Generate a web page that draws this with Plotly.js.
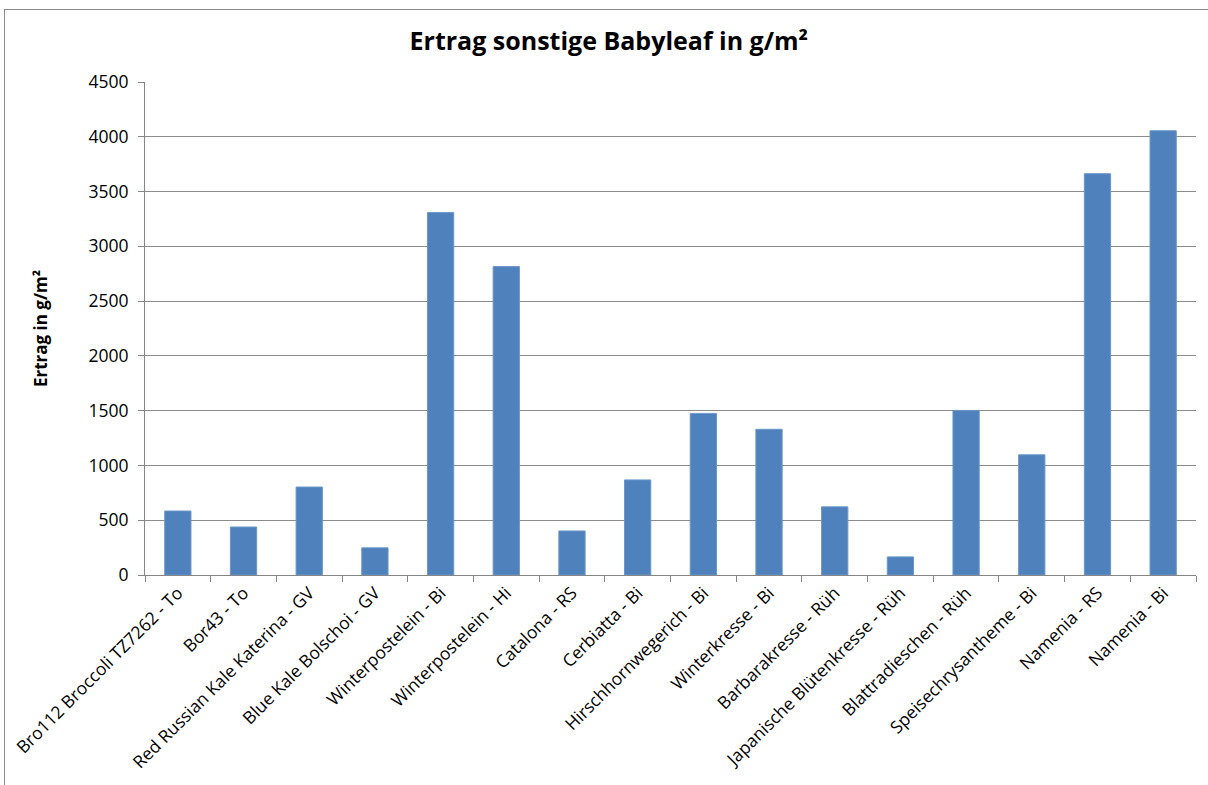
<!DOCTYPE html>
<html>
<head>
<meta charset="utf-8">
<script src="https://cdn.plot.ly/plotly-3.0.1.min.js"></script>
<style>
  html, body { margin: 0; padding: 0; background: #fff; }
  #wrap { position: relative; width: 1208px; height: 785px; }
  #chart { width: 1208px; height: 785px; }
  #frame { position: absolute; left: 4px; top: 9px; width: 1220px; height: 800px;
           border: 1.5px solid #8c8c8c; pointer-events: none; box-sizing: border-box; }
</style>
</head>
<body>
<div id="wrap">
  <div id="chart"></div>
  <div id="frame"></div>
</div>
<script>
const categories = [
  "Bro112 Broccoli TZ7262 - To",
  "Bor43 - To",
  "Red Russian Kale Katerina - GV",
  "Blue Kale Bolschoi - GV",
  "Winterpostelein - Bi",
  "Winterpostelein - Hi",
  "Catalona - RS",
  "Cerbiatta - Bi",
  "Hirschhornwegerich - Bi",
  "Winterkresse - Bi",
  "Barbarakresse - Rüh",
  "Japanische Blütenkresse - Rüh",
  "Blattradieschen - Rüh",
  "Speisechrysantheme - Bi",
  "Namenia - RS",
  "Namenia - Bi"
];
const ertrag = [584, 438, 803, 248, 3308, 2815, 402, 868, 1475, 1330, 622, 165, 1502, 1097, 3663, 4055];
const yTicks = [0, 500, 1000, 1500, 2000, 2500, 3000, 3500, 4000, 4500];

const font = "'Open Sans', 'Liberation Sans', sans-serif";

const trace = {
  type: "bar",
  x: categories,
  y: ertrag,
  marker: { color: "#4f81bd", line: { color: "#6b97cb", width: 1 } },
  hoverinfo: "x+y"
};

const layout = {
  width: 1208,
  height: 785,
  margin: { l: 145, r: 12, t: 82, b: 210 },
  paper_bgcolor: "#ffffff",
  plot_bgcolor: "#ffffff",
  showlegend: false,
  bargap: 0.6,
  title: {
    text: "<b>Ertrag sonstige Babyleaf in g/m²</b>",
    font: { family: font, size: 25, color: "#000" },
    x: 0.504, xref: "container", xanchor: "center",
    y: 0.947, yref: "container", yanchor: "middle"
  },
  xaxis: {
    type: "category",
    tickangle: -45,
    tickfont: { family: font, size: 17.4, color: "#000" },
    showline: true, linecolor: "#868686", linewidth: 1,
    ticks: "outside", ticklen: 6, tickcolor: "#868686",
    tickson: "boundaries",
    showgrid: false,
    automargin: false
  },
  yaxis: {
    range: [0, 4500],
    tickvals: yTicks,
    ticktext: yTicks.map(String),
    tickfont: { family: font, size: 17.5, color: "#000" },
    ticklabelstandoff: 6,
    showline: true, linecolor: "#868686", linewidth: 1,
    ticks: "outside", ticklen: 6, tickcolor: "#868686",
    showgrid: true, gridcolor: "#8c8c8c", gridwidth: 1,
    zeroline: false,
    title: {
      text: "<b>Ertrag in g/m²</b>",
      font: { family: font, size: 17, color: "#000" },
      standoff: 36
    },
    automargin: false
  }
};

Plotly.newPlot("chart", [trace], layout, { displayModeBar: false, staticPlot: true });
</script>
</body>
</html>
